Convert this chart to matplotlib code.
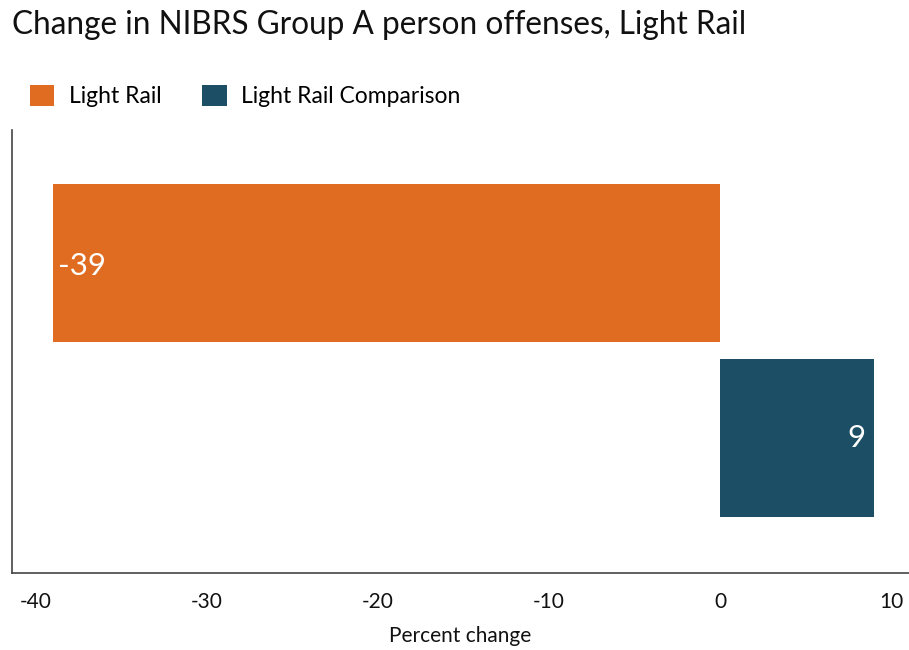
import matplotlib
matplotlib.use("Agg")
import matplotlib.pyplot as plt
from matplotlib.patches import Patch

plt.rcParams['font.family'] = ['Lato', 'DejaVu Sans']

series = ["Light Rail", "Light Rail Comparison"]
values = [-39, 9]
colors = ["#E06C22", "#1C4E66"]
xticks = [-40, -30, -20, -10, 0, 10]

fig = plt.figure(figsize=(9.09, 6.5), dpi=100)
ax = fig.add_axes([11.5 / 909, 1 - 573 / 650, 1 - 11.5 / 909, (573 - 130) / 650])

ypos = list(range(len(values)))
ax.barh(ypos, values, height=0.905, color=colors)
ax.set_xlim(-41.43, 11.05)
ax.set_ylim(1.776, -0.762)

for y, v in zip(ypos, values):
    if v < 0:
        ax.annotate(f"{v}", (v, y), xytext=(3.6, -2), textcoords="offset points",
                    ha="left", va="center", color="white", fontsize=22.5)
    else:
        ax.annotate(f"{v}", (v, y), xytext=(-6, 0), textcoords="offset points",
                    ha="right", va="center", color="white", fontsize=22.5)

ax.set_xticks(xticks)
ax.set_xticklabels([str(t) for t in xticks])
ax.tick_params(axis="x", length=0, labelsize=15, pad=14, colors="#111111")
ax.set_yticks([])
for s in ["top", "right"]:
    ax.spines[s].set_visible(False)
for s in ["left", "bottom"]:
    ax.spines[s].set_color("#444444")
    ax.spines[s].set_linewidth(1.2)
ax.set_xlabel("Percent change", fontsize=15, labelpad=10, color="#111111")

fig.text(12 / 909, 1 - 25 / 650, "Change in NIBRS Group A person offenses, Light Rail",
         fontsize=22.7, va="center", ha="left", color="#111111")

handles = [Patch(facecolor=c, label=s) for c, s in zip(colors, series)]
fig.legend(handles=handles, loc="center left", bbox_to_anchor=(30 / 909, 1 - 96 / 650),
           ncol=2, frameon=False, fontsize=16.5, handlelength=1.06, handleheight=1.06,
           handletextpad=0.64, columnspacing=1.78, borderaxespad=0, borderpad=0)

fig.savefig("out.png", dpi=100)
